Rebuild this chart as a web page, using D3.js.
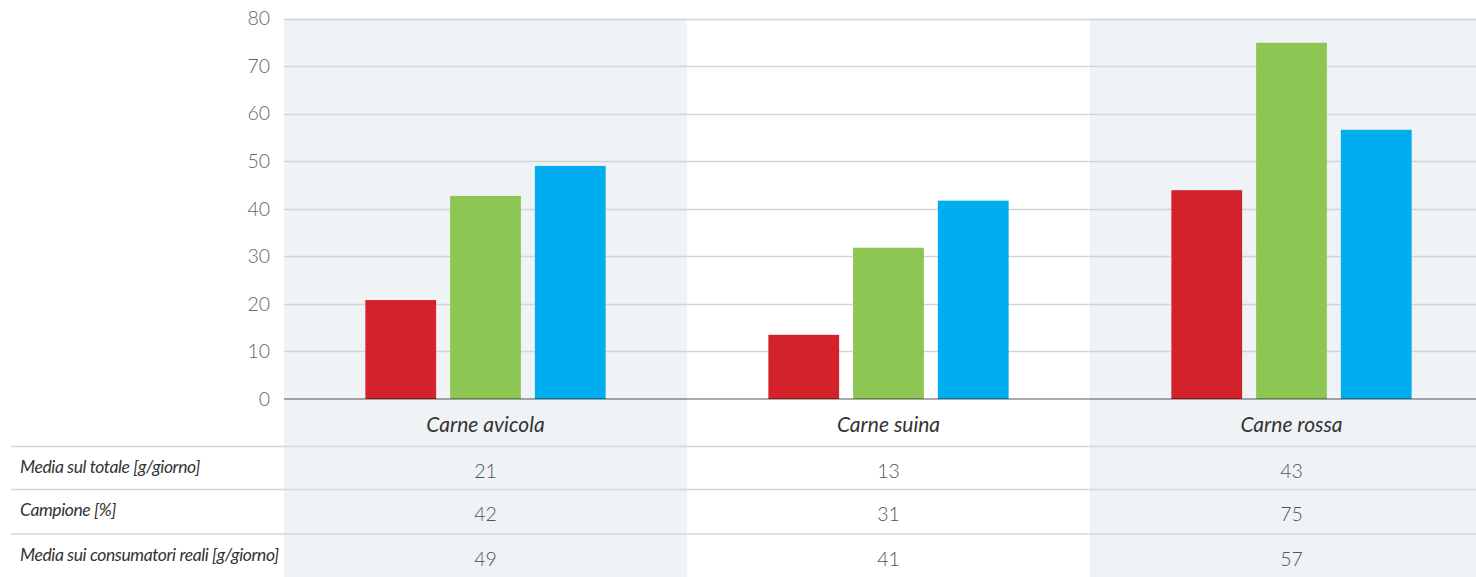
<!DOCTYPE html>
<html><head><meta charset="utf-8">
<script src="https://cdn.jsdelivr.net/npm/d3@7"></script>
<style>
html,body{margin:0;padding:0;background:#fff;}
svg{display:block;}
text{font-family:Lato,"Open Sans",sans-serif;}
</style></head>
<body>
<svg id="chart" width="1476" height="577"></svg>
<script>
const categories = ["Carne avicola", "Carne suina", "Carne rossa"];
const seriesNames = ["Media sul totale [g/giorno]", "Campione [%]", "Media sui consumatori reali [g/giorno]"];
const mediaTotale = [20.8, 13.5, 43.9];
const campione = [42.7, 31.8, 74.9];
const mediaConsumatori = [49.0, 41.7, 56.6];
const tableMediaTotale = ["21", "13", "43"];
const tableCampione = ["42", "31", "75"];
const tableMediaConsumatori = ["49", "41", "57"];
const yTicks = [0, 10, 20, 30, 40, 50, 60, 70, 80];
const colors = ["#d4222b", "#8ec653", "#00adee"];

const seriesValues = [mediaTotale, campione, mediaConsumatori];
const tableValues = [tableMediaTotale, tableCampione, tableMediaConsumatori];

const svg = d3.select("#chart");
const W = 1476, H = 577;
const plotLeft = 284, plotRight = 1493;
const yTop = 18.5, yBottom = 399;

const x = d3.scaleBand().domain(categories).range([plotLeft, plotRight]).padding(0);
const xs = d3.scaleBand().domain(d3.range(3)).range([0, x.bandwidth()]).paddingInner(0.165).paddingOuter(0.96);
const y = d3.scaleLinear().domain([0, 80]).range([yBottom, yTop]);

// gray bands
svg.append("g").selectAll("rect").data(categories.filter((d, i) => i % 2 === 0)).join("rect")
  .attr("x", d => x(d)).attr("y", yTop).attr("width", x.bandwidth()).attr("height", H - yTop)
  .attr("fill", "#eff3f6");

// gridlines
svg.append("g").selectAll("line").data(yTicks.filter(t => t > 0)).join("line")
  .attr("x1", plotLeft).attr("x2", W).attr("y1", d => Math.round(y(d)) + 0.5).attr("y2", d => Math.round(y(d)) + 0.5)
  .attr("stroke", "#d2d5d8").attr("stroke-width", 1.3);

// y tick labels
svg.append("g").selectAll("text").data(yTicks).join("text")
  .attr("x", 270).attr("y", d => y(d)).attr("dy", "0.35em")
  .attr("text-anchor", "end").attr("font-size", 19.5).attr("font-weight", 300).attr("fill", "#666")
  .text(d => d);

// bars
const groups = svg.append("g").selectAll("g").data(categories).join("g")
  .attr("transform", d => `translate(${x(d)},0)`);
groups.selectAll("rect").data((d, ci) => seriesValues.map((s, si) => ({si, v: s[ci]}))).join("rect")
  .attr("x", d => xs(d.si)).attr("width", xs.bandwidth())
  .attr("y", d => y(d.v)).attr("height", d => yBottom - y(d.v))
  .attr("fill", d => colors[d.si]);

// axis line
svg.append("line").attr("x1", plotLeft).attr("x2", W).attr("y1", yBottom).attr("y2", yBottom)
  .attr("stroke", "#000").attr("stroke-opacity", 0.33).attr("stroke-width", 2);

// category labels
svg.append("g").selectAll("text").data(categories).join("text")
  .attr("x", d => x(d) + x.bandwidth() / 2).attr("y", 432)
  .attr("text-anchor", "middle").attr("font-size", 21).attr("font-style", "italic").attr("fill", "#333")
  .text(d => d);

// table lines
const rowLines = [446.5, 489.5, 534];
svg.append("g").selectAll("line").data(rowLines).join("line")
  .attr("x1", 11).attr("x2", W).attr("y1", d => d).attr("y2", d => d)
  .attr("stroke", "#d5d8db").attr("stroke-width", 1.3);

const rowBaselines = [473, 516, 561];
const valBaselines = [478, 521, 566];
// row labels
svg.append("g").selectAll("text").data(seriesNames).join("text")
  .attr("x", 20).attr("y", (d, i) => rowBaselines[i])
  .attr("font-size", 17.5).attr("font-style", "italic").attr("fill", "#333").attr("letter-spacing", -0.4)
  .text(d => d);

// table values
tableValues.forEach((row, ri) => {
  svg.append("g").selectAll("text").data(row).join("text")
    .attr("x", (d, ci) => x(categories[ci]) + x.bandwidth() / 2).attr("y", valBaselines[ri])
    .attr("text-anchor", "middle").attr("font-size", 19.5).attr("font-weight", 300).attr("fill", "#555")
    .text(d => d);
});
</script>
</body></html>
